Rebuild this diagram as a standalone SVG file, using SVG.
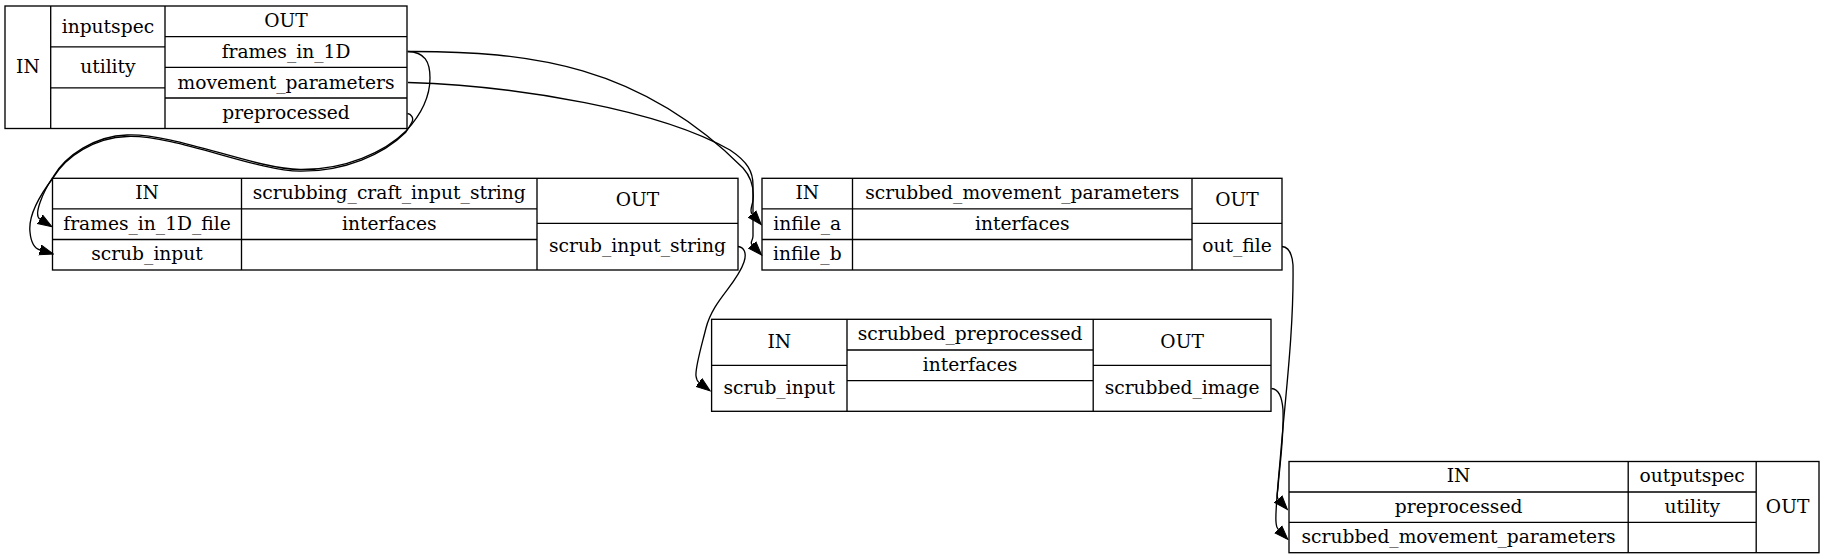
<svg xmlns="http://www.w3.org/2000/svg" width="1827" height="559" viewBox="0 0 1827 559">
<style>
  .box { fill: #ffffff; stroke: #000000; stroke-width: 1.33; }
  .div { fill: none; stroke: #000000; stroke-width: 1.33; }
  .t { font-family: "DejaVu Serif", "Liberation Serif", serif; font-size: 18.67px; fill: #000000; text-anchor: middle; }
  .edge { fill: none; stroke: #000000; stroke-width: 1.33; marker-end: url(#arrow); }
</style>
<defs>
  <marker id="arrow" markerUnits="userSpaceOnUse" markerWidth="15" markerHeight="12" viewBox="0 -6 15 12" refX="0" refY="0" orient="auto">
    <path d="M0,-5 L14,0 L0,5 z" fill="#000000" stroke="#000000" stroke-width="1"/>
  </marker>
</defs>
<rect width="1827" height="559" fill="#ffffff"/>

<g id="inputspec">
  <rect class="box" x="5" y="6" width="402" height="122.5"/>
  <path class="div" d="M50.7,6 V128.5 M165,6 V128.5 M50.7,46.9 H165 M50.7,87.8 H165 M165,36.6 H407 M165,67.3 H407 M165,98 H407"/>
  <text class="t" x="27.9" y="73">IN</text>
  <text class="t" x="107.9" y="32.5">inputspec</text>
  <text class="t" x="107.9" y="73.3">utility</text>
  <text class="t" x="286" y="27">OUT</text>
  <text class="t" x="286" y="58">frames_in_1D</text>
  <text class="t" x="286" y="88.5">movement_parameters</text>
  <text class="t" x="286" y="119">preprocessed</text>
</g>

<g id="scrubbing_craft_input_string">
  <rect class="box" x="52.5" y="178.3" width="685.5" height="91.7"/>
  <path class="div" d="M241.5,178.3 V270 M537,178.3 V270 M52.5,208.9 H537 M52.5,239.5 H537 M537,223.3 H738"/>
  <text class="t" x="147" y="199">IN</text>
  <text class="t" x="147" y="229.7">frames_in_1D_file</text>
  <text class="t" x="147" y="260.3">scrub_input</text>
  <text class="t" x="389.3" y="199">scrubbing_craft_input_string</text>
  <text class="t" x="389.3" y="229.7">interfaces</text>
  <text class="t" x="637.5" y="206.3">OUT</text>
  <text class="t" x="637.5" y="252.2">scrub_input_string</text>
</g>

<g id="scrubbed_movement_parameters">
  <rect class="box" x="762" y="178.3" width="520" height="91.7"/>
  <path class="div" d="M852.5,178.3 V270 M1192,178.3 V270 M762,208.9 H1192 M762,239.5 H1192 M1192,223.3 H1282"/>
  <text class="t" x="807.3" y="199">IN</text>
  <text class="t" x="807.3" y="229.7">infile_a</text>
  <text class="t" x="807.3" y="260.3">infile_b</text>
  <text class="t" x="1022.3" y="199">scrubbed_movement_parameters</text>
  <text class="t" x="1022.3" y="229.7">interfaces</text>
  <text class="t" x="1237" y="206.3">OUT</text>
  <text class="t" x="1237" y="252.2">out_file</text>
</g>

<g id="scrubbed_preprocessed">
  <rect class="box" x="711.6" y="319.3" width="559.4" height="92"/>
  <path class="div" d="M847,319.3 V411.3 M1093.2,319.3 V411.3 M711.6,365.3 H847 M847,350 H1093.2 M847,380.6 H1093.2 M1093.2,365.3 H1271"/>
  <text class="t" x="779.3" y="347.8">IN</text>
  <text class="t" x="779.3" y="393.8">scrub_input</text>
  <text class="t" x="970.1" y="340.2">scrubbed_preprocessed</text>
  <text class="t" x="970.1" y="370.8">interfaces</text>
  <text class="t" x="1182.1" y="347.8">OUT</text>
  <text class="t" x="1182.1" y="393.8">scrubbed_image</text>
</g>

<g id="outputspec">
  <rect class="box" x="1289" y="461.5" width="530" height="91.2"/>
  <path class="div" d="M1628.2,461.5 V552.7 M1756.2,461.5 V552.7 M1289,492 H1756.2 M1289,522.3 H1756.2"/>
  <text class="t" x="1458.6" y="482.3">IN</text>
  <text class="t" x="1458.6" y="512.7">preprocessed</text>
  <text class="t" x="1458.6" y="543">scrubbed_movement_parameters</text>
  <text class="t" x="1692.2" y="482.3">outputspec</text>
  <text class="t" x="1692.2" y="512.7">utility</text>
  <text class="t" x="1787.6" y="512.6">OUT</text>
</g>

<g id="connectors">
  <path class="edge" d="M407.5,51.5 C425,52 430,62 430,78 C430,100 418,118 406,131 C385,152 345,170 300,169.5 C255,169 175,133 127,135 C95,136 66,155 53,177 C43,192 33,215 40,219.3"/>
  <path class="edge" d="M407.5,113.5 C411,114 414,118 412,122 C410,126 408,129 405.5,132.5 C384,154 345,171.5 300,171.2 C255,170.7 175,134.5 127,136.5 C95,137.5 66,156 53,178 C40,195 28,215 30,232 C31,243 35,248.5 40,250"/>
  <path class="edge" d="M408,51.5 C530,51 640,65 743,168 C752,178 754,190 753,200 C752.5,206 749,210.5 752.1,214.1"/>
  <path class="edge" d="M408,82.5 C520,86 660,110 730,150 C748,162 753,172 753,185 L753,236 C753,241 749.5,242 752.1,244.8"/>
  <path class="edge" d="M738,246.5 C744,247 747,253 744,262 C737,284 713,300 706,328 C701,348 695,368 696,376 C696.5,380 697,381 699,382.5"/>
  <path class="edge" d="M1282,246.5 C1288,247 1292,252 1293,265 C1294,330 1285,400 1281,450 C1278,485 1275,512 1276,522 C1276.5,526 1276,527 1278.2,529.3"/>
  <path class="edge" d="M1271.5,388.5 C1278,389 1282,395 1283,410 C1284,440 1279,470 1278,488 C1277.5,494 1276,496.5 1278.2,499"/>
</g>
</svg>
